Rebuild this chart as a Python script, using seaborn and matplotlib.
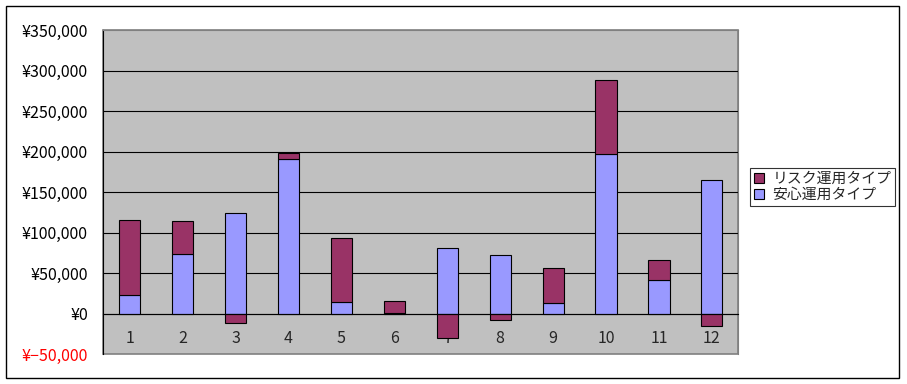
import matplotlib
matplotlib.use("Agg")
import matplotlib.pyplot as plt
from matplotlib.patches import Rectangle
import numpy as np
import seaborn as sns

sns.set_style("white")
plt.rcParams['font.family'] = ['Noto Sans CJK JP', 'DejaVu Sans']

months = ["1", "2", "3", "4", "5", "6", "7", "8", "9", "10", "11", "12"]
safe = [23800, 74000, 124700, 190900, 14300, 1000, 81500, 72800, 13600, 197500, 42000, 165400]
risk = [92000, 40000, -11000, 7500, 79500, 15000, -29600, -7400, 43000, 91400, 24700, -14800]
series_names = ["リスク運用タイプ", "安心運用タイプ"]
yticks = [-50000, 0, 50000, 100000, 150000, 200000, 250000, 300000, 350000]

c_risk = "#993366"
c_safe = "#9999ff"

fig = plt.figure(figsize=(9.07, 3.84), dpi=100)
ax = fig.add_axes([103.3 / 907, 1 - 354.3 / 384, (738.3 - 103.3) / 907, (354.3 - 30.3) / 384])
ax.set_facecolor("#c0c0c0")

safe_arr = np.array(safe)
risk_arr = np.array(risk)
bottom = np.where(risk_arr >= 0, safe_arr, 0)

sns.barplot(x=months, y=safe, color=c_safe, saturation=1, width=0.4,
            edgecolor="black", linewidth=0.8, label=series_names[1], ax=ax, zorder=3)
sns.barplot(x=months, y=risk, bottom=bottom, color=c_risk, saturation=1, width=0.4,
            edgecolor="black", linewidth=0.8, label=series_names[0], ax=ax, zorder=3)

ax.set_xlim(-0.5, 11.5)
ax.set_ylim(-50000, 350000)
ax.set_xlabel("")
ax.set_ylabel("")

# y axis
def fmt(v):
    if v < 0:
        return "¥\u2212{:,}".format(-v)
    return "¥{:,}".format(v)
ax.set_yticks(yticks, [fmt(v) for v in yticks])
for v, lbl in zip(yticks, ax.get_yticklabels()):
    lbl.set_color("red" if v < 0 else "black")
ax.tick_params(axis="y", direction="out", length=3.6, width=0.8, color="black",
               pad=7.4, labelsize=11.5)
ax.yaxis.grid(True, color="black", linewidth=0.8)
gls = ax.get_ygridlines()
gls[0].set_visible(False)
gls[-1].set_visible(False)
ax.set_axisbelow(True)

# x axis at zero
ax.spines["bottom"].set_position(("data", 0))
ax.spines["bottom"].set_color("black")
ax.spines["bottom"].set_linewidth(0.8)
ax.spines["bottom"].set_zorder(4)
ax.spines["left"].set_color("black")
ax.spines["left"].set_linewidth(0.8)
for s in ["top", "right"]:
    ax.spines[s].set_color("#808080")
    ax.spines[s].set_linewidth(0.8)
ax.patch.set_edgecolor("#808080")
ax.patch.set_linewidth(1.2)

ax.tick_params(axis="x", which="major", length=0, pad=12, labelsize=11.5)
ax.set_xticks(np.arange(-0.5, 12, 1.0), minor=True)
ax.tick_params(axis="x", which="minor", direction="in", length=3.6, width=0.8, color="black")

# legend
handles, labels = ax.get_legend_handles_labels()
order = [labels.index(series_names[0]), labels.index(series_names[1])]
leg = ax.legend([handles[i] for i in order], [labels[i] for i in order],
                loc="upper left", bbox_to_anchor=(750 / 907, 1 - 168.3 / 384),
                bbox_transform=fig.transFigure, frameon=True, fancybox=False,
                edgecolor="black", fontsize=10.7, handlelength=0.7, handleheight=0.7,
                handletextpad=0.55, borderpad=0.25, labelspacing=0.15, borderaxespad=0)
leg.get_frame().set_linewidth(0.8)
leg.get_frame().set_facecolor("white")

# outer border
fig.patches.append(Rectangle((6 / 907, 1 - 378 / 384), (899 - 6) / 907, (378 - 6) / 384,
                             transform=fig.transFigure, fill=False, edgecolor="black",
                             linewidth=1.0))

fig.savefig("out.png", dpi=100)
